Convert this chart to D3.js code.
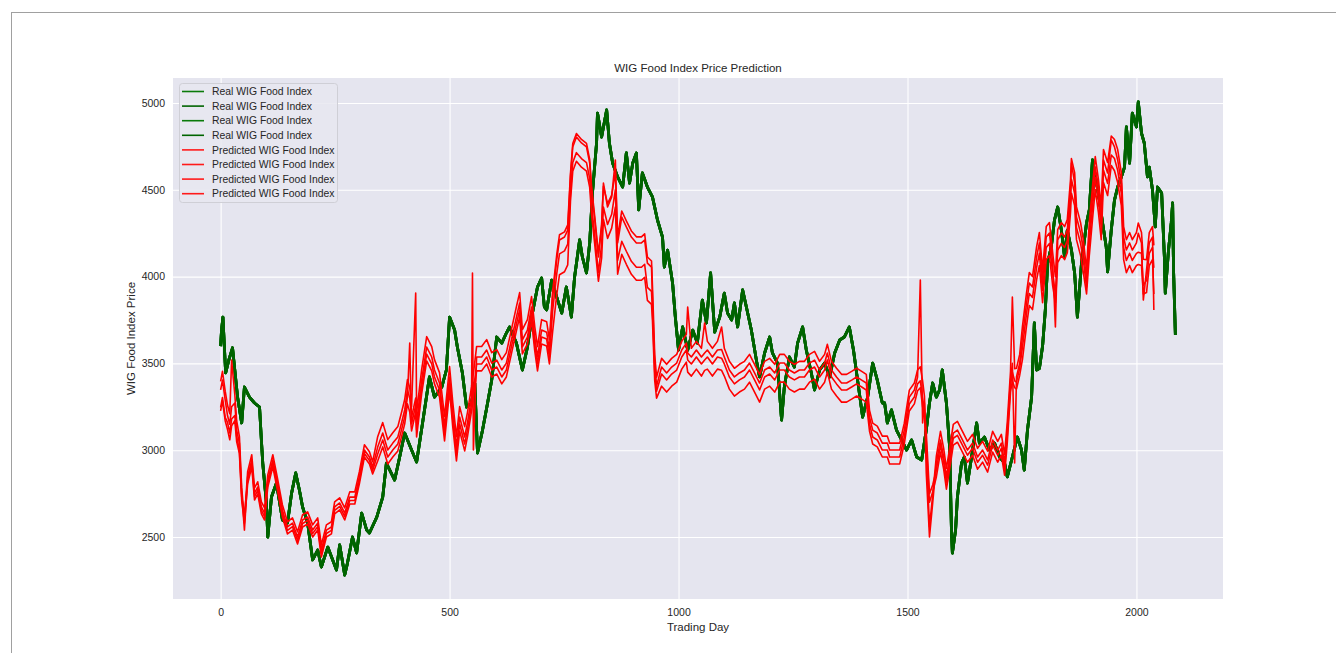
<!DOCTYPE html>
<html><head><meta charset="utf-8">
<script src="https://cdn.jsdelivr.net/npm/d3@7"></script>
<style>body{margin:0;background:#fff;} svg text{font-family: Arial, "Liberation Sans", sans-serif;}</style>
</head><body><svg id="c" width="1336" height="653"></svg>
<script>
const chartTitle = "WIG Food Index Price Prediction";
const xLabel = "Trading Day";
const yLabel = "WIG Food Index Price";
const xTicks = [0, 500, 1000, 1500, 2000];
const yTicks = [2500, 3000, 3500, 4000, 4500, 5000];
const legendLabels = ["Real WIG Food Index","Real WIG Food Index","Real WIG Food Index","Real WIG Food Index",
  "Predicted WIG Food Index","Predicted WIG Food Index","Predicted WIG Food Index","Predicted WIG Food Index"];

const realDays = [0,2,5,11,18,26,37,46,52,63,
74,85,89,92,100,103,111,122,135,146,
155,164,172,179,190,201,212,220,234,253,
260,271,277,288,297,308,319,325,341,354,
362,380,391,402,417,428,441,456,467,483,
493,500,511,517,528,537,548,555,561,572,
583,592,603,614,624,631,646,659,670,681,
692,701,707,712,723,734,745,755,766,773,
784,790,799,806,812,821,823,832,843,849,
856,867,878,886,893,900,908,913,921,932,
943,954,965,969,976,987,993,1000,1009,1020,
1031,1041,1052,1061,1070,1079,1090,1100,1107,1116,
1122,1129,1140,1151,1159,1170,1177,1188,1199,1205,
1216,1225,1231,1242,1253,1260,1271,1279,1290,1297,
1308,1319,1330,1341,1352,1362,1373,1382,1391,1402,
1413,1424,1434,1445,1450,1456,1465,1476,1487,1498,
1509,1520,1531,1541,1548,1555,1563,1570,1576,1585,
1592,1596,1598,1605,1609,1618,1624,1631,1640,1651,
1657,1668,1679,1690,1701,1712,1718,1729,1740,1749,
1755,1762,1771,1777,1782,1788,1795,1801,1806,1814,
1821,1828,1836,1843,1849,1858,1865,1871,1880,1891,
1897,1904,1913,1919,1926,1934,1937,1945,1952,1959,
1967,1974,1978,1985,1991,2000,2004,2011,2017,2024,
2028,2035,2041,2046,2055,2061,2063,2070,2076,2079,
2081,2085];
const realValues = [3600,3690,3767,3445,3520,3590,3306,3157,3364,3306,
3272,3249,3059,2926,2696,2500,2730,2811,2598,2580,
2753,2869,2771,2673,2580,2368,2425,2327,2442,2310,
2454,2281,2350,2500,2408,2638,2540,2523,2615,2730,
2926,2828,2961,3099,3001,2932,3157,3422,3306,3364,
3462,3767,3692,3594,3445,3249,3272,3387,2984,3116,
3272,3404,3652,3617,3675,3710,3617,3462,3594,3790,
3940,3992,3825,3808,3980,3882,3790,3940,3767,3998,
4211,4113,4021,4194,4482,4770,4942,4804,4960,4770,
4654,4574,4516,4712,4539,4654,4712,4384,4597,4516,
4459,4326,4228,4055,4153,3963,3767,3577,3710,3577,
3692,3617,3865,3733,4021,3680,3767,3905,3790,3750,
3848,3710,3923,3790,3692,3519,3422,3560,3652,3560,
3502,3174,3364,3537,3479,3617,3710,3577,3445,3347,
3462,3502,3422,3560,3635,3652,3710,3577,3404,3191,
3306,3502,3404,3272,3272,3157,3232,3116,3059,3001,
3059,2961,2944,3116,3272,3387,3306,3347,3462,3272,
3018,2540,2408,2540,2730,2926,2961,2811,2961,3157,
3041,3076,3001,3041,2961,2926,2846,2961,3076,3001,
2886,3116,3306,3733,3462,3470,3600,3808,4078,4171,
4326,4401,4268,4113,4268,4153,4021,3767,4078,4309,
4384,4672,4539,4441,4309,4171,4027,4268,4441,4516,
4574,4631,4862,4654,4942,4862,5006,4827,4770,4574,
4631,4499,4286,4516,4482,4113,3905,4153,4309,4424,
4038,3664];

const predDays = [0,4,10,15,20,24,31,35,41,46,
52,59,68,74,81,89,96,103,114,124,
135,146,157,168,179,190,201,212,220,231,
242,249,260,271,282,293,303,314,325,332,
343,354,365,376,387,395,402,408,413,417,
426,428,439,450,461,467,478,489,500,507,
515,522,533,539,548,550,552,559,570,581,
592,603,614,624,635,646,653,659,670,679,
686,692,701,712,718,725,734,740,751,758,
764,769,777,788,799,806,810,817,825,832,
836,845,854,862,867,876,886,897,908,919,
926,932,941,943,948,952,963,974,985,996,
1007,1017,1020,1028,1039,1050,1057,1063,1074,1085,
1094,1100,1111,1122,1133,1144,1155,1166,1177,1188,
1199,1210,1221,1231,1242,1253,1264,1275,1286,1297,
1308,1319,1325,1334,1345,1356,1367,1378,1389,1400,
1410,1417,1424,1434,1445,1456,1461,1472,1483,1493,
1504,1515,1522,1528,1533,1537,1541,1548,1555,1563,
1572,1579,1585,1592,1600,1609,1620,1631,1642,1653,
1664,1675,1686,1697,1705,1712,1718,1725,1729,1734,
1738,1745,1751,1760,1766,1773,1782,1788,1795,1803,
1810,1817,1823,1828,1836,1843,1849,1856,1858,1865,
1869,1878,1884,1891,1897,1904,1910,1917,1923,1928,
1937,1945,1952,1959,1967,1972,1978,1985,1991,2000,
2004,2011,2015,2022,2028,2035,2038];

const predA = [3397,3454,3340,3260,3210,3519,3320,3170,3080,2783,
2600,2876,2974,2783,2818,2703,2668,2858,2974,2841,
2685,2588,2610,2530,2628,2645,2570,2610,2455,2570,
2588,2703,2726,2668,2760,2760,2876,3031,2991,2933,
3078,3159,3061,3101,3136,3217,3292,3407,3360,3251,
3905,3217,3464,3654,3597,3522,3447,3194,3482,3274,
3078,3251,3136,3217,3366,3420,3440,3597,3597,3637,
3562,3579,3522,3562,3695,3827,3908,3695,3752,3885,
3712,3597,3752,3740,3637,3912,4126,4241,4258,4298,
4594,4767,4824,4790,4767,4674,4519,4346,4133,4300,
4520,4420,4470,4600,4230,4378,4321,4263,4229,4229,
4246,4113,4090,3950,3550,3420,3529,3495,3529,3552,
3627,3667,3825,3587,3627,3587,3733,3627,3587,3627,
3710,3587,3512,3472,3495,3512,3552,3495,3437,3512,
3529,3495,3552,3552,3512,3495,3512,3512,3552,3569,
3512,3552,3610,3512,3472,3437,3437,3454,3472,3454,
3437,3231,3156,3139,3081,3081,3041,3041,3041,3156,
3346,3387,3462,3480,3400,3312,3000,2560,2740,2966,
3109,3011,2896,3011,3149,3166,3109,3051,3091,3011,
3051,2994,3109,3051,3091,2976,3166,3454,3882,3470,
3472,3552,3712,3908,4023,4000,4173,4254,4040,4288,
4311,4138,4000,4271,4311,4288,4328,4559,4680,4599,
4403,4311,4213,4040,4311,4519,4691,4559,4403,4732,
4657,4810,4790,4732,4599,4288,4213,4254,4213,4254,
4309,4254,4100,4098,4254,4288,4180];

const predB = [3347,3404,3290,3200,3150,3250,3272,3116,3041,2753,
2540,2846,2944,2753,2788,2673,2638,2828,2944,2811,
2655,2558,2580,2500,2598,2615,2540,2580,2425,2540,
2558,2673,2696,2638,2730,2730,2846,3001,2961,2903,
3018,3099,3001,3041,3076,3157,3232,3347,3300,3191,
3300,3157,3404,3594,3537,3462,3387,3134,3422,3214,
3018,3191,3076,3157,3306,4021,3001,3537,3537,3577,
3502,3519,3462,3502,3635,3767,3848,3635,3692,3825,
3652,3537,3692,3680,3577,3882,4096,4211,4228,4268,
4574,4747,4804,4770,4747,4654,4499,4326,4113,4286,
4539,4401,4459,4672,4194,4343,4286,4228,4194,4194,
4211,4078,4055,3882,3502,3370,3479,3445,3479,3502,
3577,3617,3560,3537,3577,3537,3560,3577,3537,3577,
3580,3537,3462,3422,3445,3462,3502,3445,3387,3462,
3479,3445,3502,3502,3462,3445,3462,3462,3502,3519,
3462,3502,3560,3462,3422,3387,3387,3404,3422,3404,
3387,3191,3116,3099,3041,3041,3001,3001,3001,3116,
3306,3347,3422,3980,3157,3272,2869,2500,2696,2926,
3059,2961,2846,2961,3099,3116,3059,3001,3041,2961,
3001,2944,3059,3001,3041,2926,3116,3404,3500,2926,
3422,3502,3652,3848,3963,3940,4113,4194,3980,4228,
4251,4078,3710,4211,4251,4228,4268,4499,4654,4539,
4343,4251,4153,3980,4251,4459,4631,4499,4343,4672,
4597,4787,4747,4672,4539,4228,4153,4194,4153,4194,
4250,4194,3865,4038,4194,4228,3808];

const predC = [3247,3304,3190,3160,3099,3180,3200,3080,3000,2733,
2620,2826,2924,2733,2768,2653,2618,2808,2924,2791,
2635,2538,2560,2480,2578,2595,2520,2560,2405,2520,
2538,2653,2676,2618,2710,2710,2826,2981,2941,2883,
2978,3059,2961,3001,3036,3117,3192,3307,3617,3151,
3260,3117,3364,3554,3497,3422,3347,3094,3382,3174,
2978,3151,3036,3117,3266,3300,3340,3497,3497,3537,
3462,3479,3422,3462,3595,3727,3808,3595,3652,3785,
3612,3497,3652,3640,3537,3802,4016,4131,4148,4188,
4484,4657,4714,4680,4657,4564,4409,4236,4023,4186,
4400,4300,4359,4500,4094,4203,4146,4088,4054,4054,
4071,3938,3915,3800,3450,3340,3439,3405,3439,3462,
3537,3577,3520,3497,3537,3497,3520,3537,3497,3537,
3530,3497,3422,3382,3405,3422,3462,3405,3347,3422,
3439,3405,3462,3462,3422,3405,3422,3422,3462,3479,
3422,3462,3520,3422,3382,3347,3347,3364,3382,3364,
3347,3151,3076,3059,3001,3001,2961,2961,2961,3076,
3266,3307,3382,3400,3300,3232,3100,2750,2800,2886,
3029,2931,2816,2931,3069,3086,3029,2971,3011,2931,
2971,2914,3029,2971,3011,2896,3086,3374,3450,3400,
3392,3472,3592,3788,3903,3880,4053,4134,3920,4168,
4191,4018,3900,4151,4191,4168,4208,4439,4560,4479,
4283,4191,4093,3940,4191,4399,4571,4439,4283,4612,
4537,4700,4680,4612,4479,4168,4093,4134,4093,4134,
4140,4134,3950,3978,4134,4168,4050];

const predD = [3227,3284,3170,3120,3060,3140,3170,3050,2980,2713,
2580,2806,2904,2713,2748,2633,2598,2788,2904,2771,
2615,2518,2540,2460,2558,2575,2500,2540,2385,2500,
2518,2633,2656,2598,2690,2690,2806,2961,2921,2863,
2938,3019,2921,2961,2996,3077,3152,3267,3220,3111,
3220,3077,3324,3514,3457,3382,3307,3054,3342,3134,
2938,3111,2996,3077,3226,3260,3300,3457,3457,3497,
3422,3439,3382,3422,3555,3687,3768,3555,3612,3745,
3572,3457,3612,3600,3497,3682,3896,4011,4028,4068,
4434,4607,4664,4630,4607,4514,4359,4186,3973,4106,
4330,4220,4279,4400,4014,4128,4071,4013,3979,3979,
3996,3863,3840,3750,3400,3300,3369,3335,3369,3392,
3467,3507,3450,3427,3467,3427,3460,3467,3427,3467,
3460,3427,3352,3312,3335,3352,3392,3335,3277,3352,
3369,3335,3392,3392,3352,3335,3352,3352,3392,3409,
3352,3392,3450,3352,3312,3277,3277,3294,3312,3294,
3277,3111,3036,3019,2961,2961,2921,2921,2921,3036,
3226,3267,3342,3360,3250,3192,3050,2700,2760,2846,
2989,2891,2776,2891,3029,3046,2989,2931,2971,2891,
2931,2874,2989,2931,2971,2856,3046,3334,3400,3360,
3352,3432,3522,3718,3833,3810,3983,4064,3850,4098,
4121,3948,3850,4081,4121,4098,4138,4369,4480,4409,
4213,4121,4023,3900,4121,4329,4501,4369,4213,4542,
4467,4640,4610,4542,4409,4098,4023,4064,4023,4064,
4070,4064,3900,3908,4064,4098,3900];

const realSeries = [realValues, realValues, realValues, realValues];
const predSeries = [predA, predB, predC, predD];

const svg = d3.select("#c");
const plot = {left: 173, right: 1223, top: 78, bottom: 599};

// outer frame
svg.append("rect").attr("x", 11.5).attr("y", 12.5).attr("width", 1340).attr("height", 680)
  .attr("fill", "none").attr("stroke", "#a0a0a0").attr("stroke-width", 1);

const x = d3.scaleLinear().domain([-104, 2189]).range([plot.left, plot.right]);
const y = d3.scaleLinear().domain([2143, 5144]).range([plot.bottom, plot.top]);

svg.append("rect").attr("x", plot.left).attr("y", plot.top)
  .attr("width", plot.right - plot.left).attr("height", plot.bottom - plot.top)
  .attr("fill", "#e5e5ef");

const gx = svg.append("g").attr("transform", `translate(0,${plot.bottom})`)
  .call(d3.axisBottom(x).tickValues(xTicks).tickSize(-(plot.bottom - plot.top)).tickPadding(10).tickFormat(d3.format("d")));
const gy = svg.append("g").attr("transform", `translate(${plot.left},0)`)
  .call(d3.axisLeft(y).tickValues(yTicks).tickSize(-(plot.right - plot.left)).tickPadding(8).tickFormat(d3.format("d")));
[gx, gy].forEach(g => {
  g.select(".domain").remove();
  g.selectAll(".tick line").attr("stroke", "#ffffff").attr("stroke-width", 1.1);
  g.selectAll(".tick text").attr("fill", "#262626").attr("font-size", 10.5)
    .attr("font-family", "Arial, 'Liberation Sans', sans-serif");
});

svg.append("clipPath").attr("id", "pc").append("rect")
  .attr("x", plot.left).attr("y", plot.top).attr("width", plot.right - plot.left).attr("height", plot.bottom - plot.top);

const g = svg.append("g").attr("clip-path", "url(#pc)");
function lineFor(days) {
  return d3.line().x((d, i) => x(days[i])).y(d => y(d));
}
realSeries.forEach(vals => {
  const n = Math.min(vals.length, realDays.length);
  g.append("path").datum(vals.slice(0, n)).attr("d", lineFor(realDays))
    .attr("fill", "none").attr("stroke", "#006400").attr("stroke-width", 2.8).attr("stroke-linejoin", "round");
});
predSeries.forEach(vals => {
  const n = Math.min(vals.length, predDays.length);
  g.append("path").datum(vals.slice(0, n)).attr("d", lineFor(predDays))
    .attr("fill", "none").attr("stroke", "#ff0000").attr("stroke-width", 1.6).attr("stroke-linejoin", "round");
});

svg.append("text").attr("x", (plot.left + plot.right) / 2).attr("y", 72).attr("text-anchor", "middle")
  .attr("font-size", 11.5).attr("fill", "#262626").text(chartTitle);
svg.append("text").attr("x", (plot.left + plot.right) / 2).attr("y", 631).attr("text-anchor", "middle")
  .attr("font-size", 11.5).attr("fill", "#262626").text(xLabel);
svg.append("text").attr("transform", `translate(135,${(plot.top + plot.bottom) / 2}) rotate(-90)`)
  .attr("text-anchor", "middle").attr("font-size", 11.5).attr("fill", "#262626").text(yLabel);

const lg = svg.append("g");
lg.append("rect").attr("x", 179.5).attr("y", 83.5).attr("width", 158).attr("height", 119).attr("rx", 3)
  .attr("fill", "#e8e8f0").attr("fill-opacity", 0.85).attr("stroke", "#cfcfd6");
const legendColors = ["#0a7a0a", "#006400", "#0a7a0a", "#006400", "#ff1a1a", "#ff1a1a", "#ff1a1a", "#ff1a1a"];
legendLabels.forEach((lab, i) => {
  const yy = 91.5 + i * 14.6;
  lg.append("line").attr("x1", 182).attr("x2", 204).attr("y1", yy).attr("y2", yy)
    .attr("stroke", legendColors[i]).attr("stroke-width", 1.6);
  lg.append("text").attr("x", 212).attr("y", yy + 3.7).attr("font-size", 10.4).attr("fill", "#262626").text(lab);
});
</script>
</body></html>
